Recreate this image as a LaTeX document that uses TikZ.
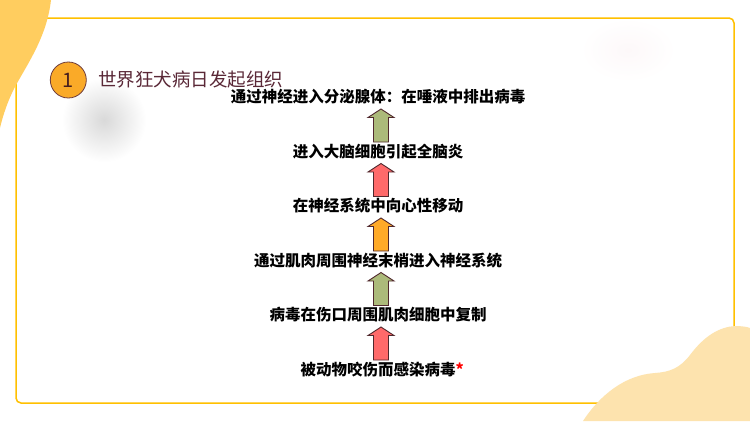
\documentclass[tikz,border=0pt]{standalone}
\usepackage{fontspec}
\setmainfont{Noto Sans CJK SC}
\definecolor{framey}{RGB}{255,192,0}
\definecolor{blobtl}{RGB}{255,205,95}
\definecolor{blobbr}{RGB}{253,227,174}
\definecolor{titlec}{RGB}{90,40,55}
\definecolor{arrline}{RGB}{80,40,45}
\definecolor{agreen}{RGB}{172,186,122}
\definecolor{ared}{RGB}{255,106,106}
\definecolor{aorange}{RGB}{255,170,40}
\definecolor{badge}{RGB}{250,170,40}
\definecolor{badgeline}{RGB}{110,60,60}
\definecolor{pinkish}{RGB}{253,248,249}
\tikzset{
  steptext/.style={anchor=base, inner sep=0pt, font=\fontsize{15.5}{15.5}\selectfont\bfseries, text=black},
  blockarr/.style={draw=arrline, line width=0.9pt, line join=miter, fill=#1},
}
\newcommand\myblockarrow[2]{%
  \draw[blockarr=#2, shift={(#1)}] (0,-16.5) -- (13,-8) -- (7.5,-8) -- (7.5,16.5)
    -- (-7.5,16.5) -- (-7.5,-8) -- (-13,-8) -- cycle;}
\begin{document}
\begin{tikzpicture}[x=1pt,y=-1pt]
\useasboundingbox (0,0) rectangle (750,421);
\fill[white] (0,0) rectangle (750,421);
% soft decorations
\shade[inner color=black!15, outer color=white] (104,120) circle (42);
\shade[inner color=pinkish, outer color=white] (628,50) ellipse (48 and 32);
% frame
\draw[framey, line width=1.5pt, rounded corners=5pt] (16,18) rectangle (734,403);
% corner blobs
\fill[blobtl] (0,0) -- (51,0) .. controls (47,35) and (30,60) .. (16,85)
  .. controls (8,100) and (3,115) .. (0,128) -- cycle;
\fill[blobbr] (583,421) .. controls (600,395) and (625,375) .. (655,373)
  .. controls (670,372) and (680,368) .. (690,355)
  .. controls (705,335) and (720,327) .. (735,326)
  .. controls (742,326) and (748,327) .. (750,328) -- (750,421) -- cycle;
% title
\node[circle, draw=badgeline, line width=0.8pt, fill=badge, minimum size=36pt, inner sep=0pt,
  font=\fontsize{20}{20}\selectfont, text={rgb,255:red,70;green,30;blue,30}] (badge) at (68.3,80) {1};
\node[anchor=base west, inner sep=0pt, font=\fontsize{18.5}{18.5}\selectfont, text=titlec] (title) at (98,86) {世界狂犬病日发起组织};
% steps
\node[steptext] (t1) at (378,102.5) {通过神经进入分泌腺体：在唾液中排出病毒};
\node[steptext] (t2) at (378,157) {进入大脑细胞引起全脑炎};
\node[steptext] (t3) at (378,211.5) {在神经系统中向心性移动};
\node[steptext] (t4) at (378,266) {通过肌肉周围神经末梢进入神经系统};
\node[steptext] (t5) at (378,320.5) {病毒在伤口周围肌肉细胞中复制};
\node[steptext] (t6) at (378,375) {被动物咬伤而感染病毒\rlap{\color{red}*}};
% arrows
\coordinate (a1) at (381,125.5);
\coordinate (a2) at (381,180);
\coordinate (a3) at (381,234.5);
\coordinate (a4) at (381,289);
\coordinate (a5) at (381,343.5);
\myblockarrow{a1}{agreen}
\myblockarrow{a2}{ared}
\myblockarrow{a3}{aorange}
\myblockarrow{a4}{agreen}
\myblockarrow{a5}{ared}
\end{tikzpicture}
\end{document}
